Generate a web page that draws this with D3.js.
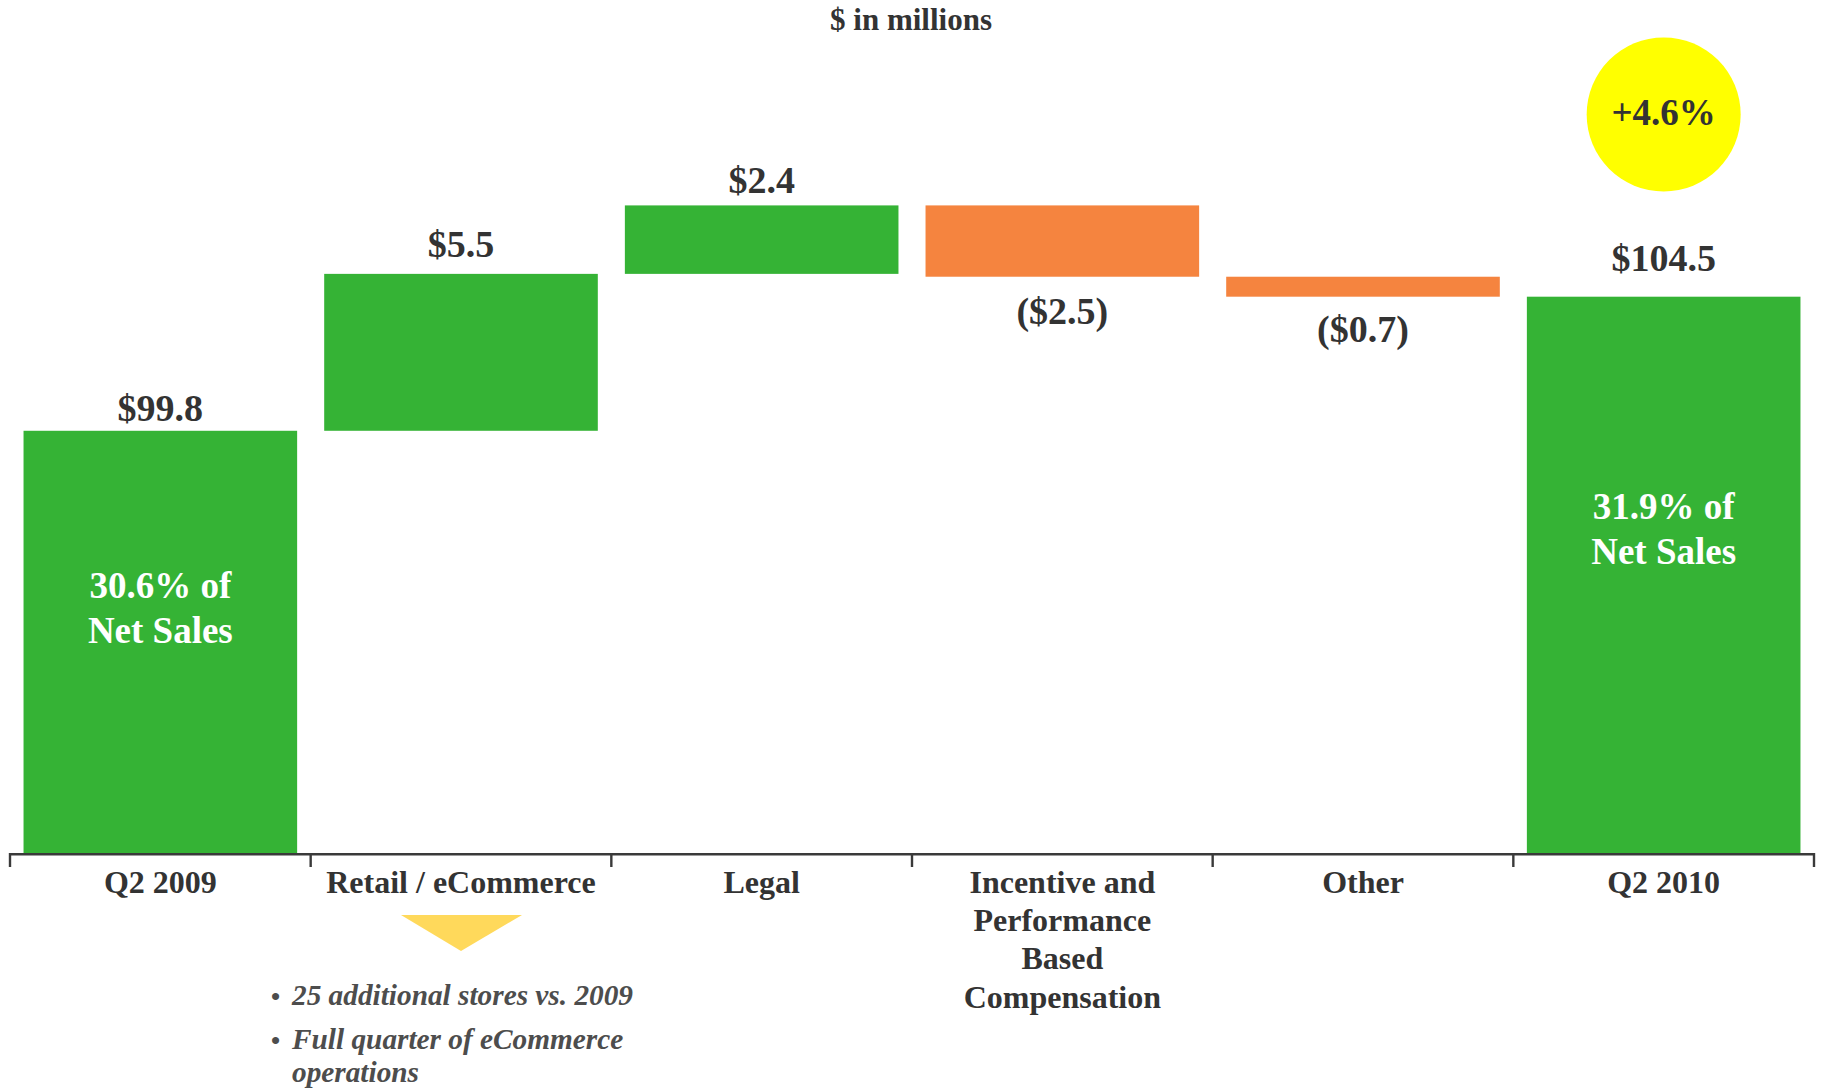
<!DOCTYPE html>
<html>
<head>
<meta charset="utf-8">
<script src="https://cdn.jsdelivr.net/npm/d3@7"></script>
<style>
  html, body { margin: 0; padding: 0; background: #ffffff; }
  svg { display: block; }
  text { font-family: "Liberation Serif", "Times New Roman", serif; font-weight: bold; }
</style>
</head>
<body>
<div id="chart"></div>
<script>
// ---------- data ----------
const categories = ["Q2 2009", "Retail / eCommerce", "Legal", "Incentive and Performance Based Compensation", "Other", "Q2 2010"];
const categoryLines = [["Q2 2009"], ["Retail / eCommerce"], ["Legal"], ["Incentive and", "Performance", "Based", "Compensation"], ["Other"], ["Q2 2010"]];
const values = [99.8, 5.5, 2.4, -2.5, -0.7, 104.5];
const kinds = ["total", "delta", "delta", "delta", "delta", "total"];
const valueLabels = ["$99.8", "$5.5", "$2.4", "($2.5)", "($0.7)", "$104.5"];
const innerLabels = [["30.6% of", "Net Sales"], null, null, null, null, ["31.9% of", "Net Sales"]];
const titleText = "$ in millions";
const growthText = "+4.6%";
const noteLines = ["25 additional stores vs. 2009", "Full quarter of eCommerce", "operations"];
const yDomain = [85, 114.9];

// ---------- layout / style ----------
const W = 1827, H = 1090;
const GREEN = "#35b335", ORANGE = "#f5843f", TEXT = "#333333";
const baseY = 853;
const labelGap = [10, 17, 12, 0, 0, 26];      // gap above positive bars
const negLabelDrop = [0, 0, 0, 47, 45, 0];    // baseline drop below negative bars
const innerFirstBaseline = [598, null, null, null, null, 519];

const svg = d3.select("#chart").append("svg")
  .attr("width", W).attr("height", H)
  .attr("viewBox", `0 0 ${W} ${H}`);
svg.append("rect").attr("width", W).attr("height", H).attr("fill", "#fff");

const x = d3.scaleBand().domain(categories).range([10, 1814])
  .paddingInner(0.09).paddingOuter(0.045);
const y = d3.scaleLinear().domain(yDomain).range([baseY, 0]);

// waterfall computation
let running = 0;
const bars = categories.map((c, i) => {
  let lo, hi;
  if (kinds[i] === "total") {
    lo = yDomain[0]; hi = values[i]; running = values[i];
  } else {
    const start = running; running = running + values[i];
    lo = Math.min(start, running); hi = Math.max(start, running);
  }
  return { cat: c, i, lo, hi, v: values[i], kind: kinds[i] };
});

// title
svg.append("text").attr("x", 911).attr("y", 30).attr("text-anchor", "middle")
  .attr("font-size", 31).attr("fill", TEXT).text(titleText);

// bars
svg.selectAll("rect.bar").data(bars).enter().append("rect")
  .attr("class", "bar")
  .attr("x", d => x(d.cat))
  .attr("width", x.bandwidth())
  .attr("y", d => y(d.hi))
  .attr("height", d => y(d.lo) - y(d.hi))
  .attr("fill", d => d.v >= 0 ? GREEN : ORANGE);

// value labels
svg.selectAll("text.val").data(bars).enter().append("text")
  .attr("class", "val")
  .attr("x", d => x(d.cat) + x.bandwidth() / 2)
  .attr("y", d => d.v >= 0 ? y(d.hi) - labelGap[d.i] : y(d.lo) + negLabelDrop[d.i])
  .attr("text-anchor", "middle")
  .attr("font-size", 38)
  .attr("fill", TEXT)
  .text(d => valueLabels[d.i]);

// inner labels
bars.forEach(d => {
  if (!innerLabels[d.i]) return;
  const t = svg.append("text")
    .attr("text-anchor", "middle").attr("font-size", 37).attr("fill", "#ffffff");
  innerLabels[d.i].forEach((line, k) => {
    t.append("tspan").attr("x", x(d.cat) + x.bandwidth() / 2)
      .attr("y", innerFirstBaseline[d.i] + k * 44.5).text(line);
  });
});

// axis line + ticks at band boundaries
const r = x.range();
const boundaries = categories.map((c, i) => r[0] + i * x.step()).concat([r[1]]);
svg.append("line").attr("x1", r[0]).attr("x2", r[1])
  .attr("y1", baseY + 1.2).attr("y2", baseY + 1.2)
  .attr("stroke", "#3a3a3a").attr("stroke-width", 2.6);
svg.selectAll("line.tick").data(boundaries).enter().append("line")
  .attr("class", "tick")
  .attr("x1", d => d).attr("x2", d => d)
  .attr("y1", baseY).attr("y2", baseY + 14)
  .attr("stroke", "#3a3a3a").attr("stroke-width", 2.4);

// category labels
categories.forEach((c, i) => {
  const t = svg.append("text").attr("text-anchor", "middle")
    .attr("font-size", 32).attr("fill", TEXT);
  categoryLines[i].forEach((line, k) => {
    t.append("tspan").attr("x", x(c) + x.bandwidth() / 2)
      .attr("y", 892.5 + k * 38.4).text(line);
  });
});

// growth bubble over last bar
const lastCx = x(categories[5]) + x.bandwidth() / 2;
svg.append("circle").attr("cx", lastCx).attr("cy", 114.5).attr("r", 77)
  .attr("fill", "#ffff00");
svg.append("text").attr("x", lastCx).attr("y", 125).attr("text-anchor", "middle")
  .attr("font-size", 37).attr("fill", TEXT).text(growthText);

// yellow pointer triangle under Retail / eCommerce
const tx = x(categories[1]) + x.bandwidth() / 2;
svg.append("path")
  .attr("d", `M${tx - 60},915 L${tx + 61},915 L${tx},951 Z`)
  .attr("fill", "#ffd95b");

// notes
const notes = svg.append("g").attr("fill", "#4d4d4d");
const noteY = [1005, 1049, 1082];
noteLines.forEach((line, k) => {
  if (k < 2) {
    notes.append("text").attr("x", 271).attr("y", noteY[k])
      .attr("font-size", 26).attr("font-weight", "bold").text("\u2022");
  }
  notes.append("text").attr("x", 292).attr("y", noteY[k])
    .attr("font-size", 29.3).attr("font-style", "italic").text(line);
});
</script>
</body>
</html>
